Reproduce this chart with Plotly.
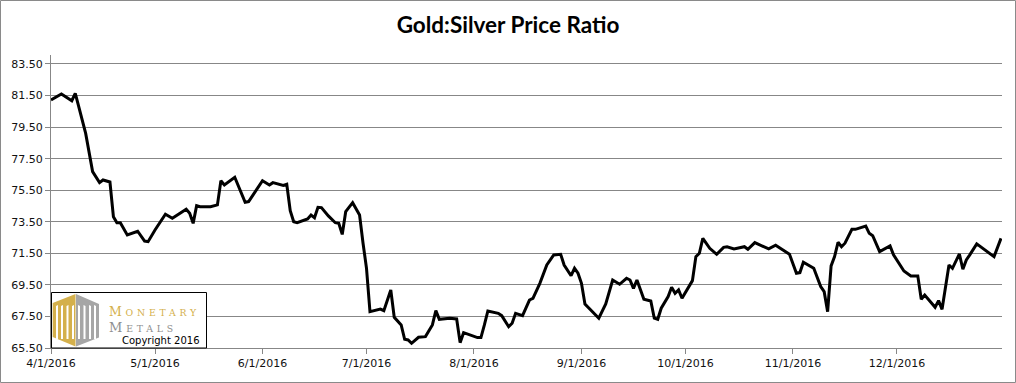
import plotly.graph_objects as go

# ---- data ----
dates = [
    "2016-04-01", "2016-04-04", "2016-04-07", "2016-04-08", "2016-04-09", "2016-04-11",
    "2016-04-13", "2016-04-15", "2016-04-16", "2016-04-18", "2016-04-19", "2016-04-20",
    "2016-04-21", "2016-04-23", "2016-04-26", "2016-04-28", "2016-04-29", "2016-05-01",
    "2016-05-04", "2016-05-06", "2016-05-10", "2016-05-11", "2016-05-12", "2016-05-13",
    "2016-05-14", "2016-05-17", "2016-05-19", "2016-05-20", "2016-05-21", "2016-05-24",
    "2016-05-27", "2016-05-28", "2016-06-01", "2016-06-03", "2016-06-04", "2016-06-07",
    "2016-06-08", "2016-06-09", "2016-06-10", "2016-06-11", "2016-06-14", "2016-06-15",
    "2016-06-16", "2016-06-17", "2016-06-18", "2016-06-20", "2016-06-22", "2016-06-23",
    "2016-06-24", "2016-06-25", "2016-06-27", "2016-06-29", "2016-06-30", "2016-07-01",
    "2016-07-02", "2016-07-05", "2016-07-06", "2016-07-08", "2016-07-09", "2016-07-11",
    "2016-07-12", "2016-07-13", "2016-07-14", "2016-07-16", "2016-07-18", "2016-07-20",
    "2016-07-21", "2016-07-22", "2016-07-25", "2016-07-27", "2016-07-28", "2016-07-29",
    "2016-08-02", "2016-08-03", "2016-08-04", "2016-08-05", "2016-08-08", "2016-08-09",
    "2016-08-11", "2016-08-12", "2016-08-13", "2016-08-15", "2016-08-17", "2016-08-18",
    "2016-08-20", "2016-08-22", "2016-08-24", "2016-08-26", "2016-08-27", "2016-08-29",
    "2016-08-30", "2016-08-31", "2016-09-01", "2016-09-02", "2016-09-06", "2016-09-08",
    "2016-09-10", "2016-09-12", "2016-09-14", "2016-09-15", "2016-09-16", "2016-09-17",
    "2016-09-19", "2016-09-21", "2016-09-22", "2016-09-23", "2016-09-24", "2016-09-26",
    "2016-09-27", "2016-09-28", "2016-09-29", "2016-09-30", "2016-10-03", "2016-10-04",
    "2016-10-05", "2016-10-06", "2016-10-08", "2016-10-10", "2016-10-12", "2016-10-13",
    "2016-10-15", "2016-10-18", "2016-10-19", "2016-10-21", "2016-10-25", "2016-10-27",
    "2016-10-31", "2016-11-02", "2016-11-03", "2016-11-04", "2016-11-07", "2016-11-09",
    "2016-11-10", "2016-11-11", "2016-11-12", "2016-11-13", "2016-11-14", "2016-11-15",
    "2016-11-16", "2016-11-18", "2016-11-19", "2016-11-22", "2016-11-23", "2016-11-24",
    "2016-11-26", "2016-11-29", "2016-11-30", "2016-12-01", "2016-12-03", "2016-12-05",
    "2016-12-07", "2016-12-08", "2016-12-09", "2016-12-12", "2016-12-13", "2016-12-14",
    "2016-12-16", "2016-12-17", "2016-12-19", "2016-12-20", "2016-12-21", "2016-12-22",
    "2016-12-24", "2016-12-29", "2016-12-31",
]
ratio = [
    81.22, 81.60, 81.17, 81.64, 80.80, 79.10,
    76.68, 75.98, 76.15, 76.02, 73.82, 73.44,
    73.44, 72.66, 72.90, 72.28, 72.24, 72.98,
    73.98, 73.72, 74.29, 74.04, 73.40, 74.52,
    74.46, 74.46, 74.57, 76.10, 75.83, 76.32,
    74.74, 74.78, 76.10, 75.83, 75.98, 75.81,
    75.88, 74.20, 73.50, 73.44, 73.68, 73.93,
    73.76, 74.42, 74.40, 73.87, 73.44, 73.40,
    72.70, 74.14, 74.71, 73.93, 72.14, 70.55,
    67.80, 67.97, 67.87, 69.18, 67.45, 66.96,
    66.05, 66.01, 65.80, 66.18, 66.22, 66.96,
    67.87, 67.32, 67.39, 67.34, 65.84, 66.47,
    66.16, 66.16, 66.96, 67.85, 67.70, 67.55,
    66.85, 67.07, 67.70, 67.55, 68.54, 68.65,
    69.60, 70.76, 71.40, 71.44, 70.76, 70.08,
    70.55, 70.24, 69.60, 68.29, 67.39, 68.29,
    69.81, 69.54, 69.92, 69.81, 69.28, 69.81,
    68.59, 68.48, 67.39, 67.32, 68.02, 68.76,
    69.35, 68.97, 69.18, 68.65, 69.77, 71.29,
    71.50, 72.45, 71.82, 71.44, 71.88, 71.92,
    71.78, 71.92, 71.76, 72.18, 71.78, 72.01,
    71.44, 70.24, 70.28, 70.94, 70.55, 69.39,
    69.07, 67.80, 70.70, 71.29, 72.20, 71.92,
    72.14, 73.02, 73.02, 73.23, 72.77, 72.62,
    71.61, 71.97, 71.40, 71.08, 70.38, 70.07,
    70.07, 68.59, 68.86, 68.08, 68.50, 67.95,
    70.76, 70.55, 71.46, 70.49, 71.08, 71.40,
    72.10, 71.29, 72.45,
]
x_tick_vals = ["2016-04-01", "2016-05-01", "2016-06-01", "2016-07-01", "2016-08-01",
               "2016-09-01", "2016-10-01", "2016-11-01", "2016-12-01"]
x_tick_text = ["4/1/2016", "5/1/2016", "6/1/2016", "7/1/2016", "8/1/2016",
               "9/1/2016", "10/1/2016", "11/1/2016", "12/1/2016"]
y_tick_vals = [65.5, 67.5, 69.5, 71.5, 73.5, 75.5, 77.5, 79.5, 81.5, 83.5]
y_tick_text = ["%.2f" % v for v in y_tick_vals]

title_text = "Gold:Silver Price Ratio"

# ---- layout geometry (pixels) ----
W, H = 1016, 383
L, R, T, B = 51, 14, 55, 35
PW, PH = W - L - R, H - T - B
GRID = "#878787"
TICKFONT = dict(family="DejaVu Sans, Verdana, sans-serif", size=11, color="#111111")


def P(x, y):
    """pixel -> paper coords"""
    return (x - L) / PW, (H - B - y) / PH


def path(points):
    s = ""
    for i, (x, y) in enumerate(points):
        px, py = P(x, y)
        s += ("M" if i == 0 else "L") + f"{px:.5f},{py:.5f} "
    return s + "Z"


fig = go.Figure()
fig.add_trace(go.Scatter(x=dates, y=ratio, mode="lines",
                         line=dict(color="#000000", width=3), hoverinfo="x+y"))

shapes = []
# outer border of the image
bx0, by0 = P(0.5, 0.5)
bx1, by1 = P(W - 0.5, H - 0.5)
shapes.append(dict(type="rect", xref="paper", yref="paper", x0=bx0, y0=by1, x1=bx1, y1=by0,
                   line=dict(color="#8a8a8a", width=1), fillcolor="rgba(0,0,0,0)", layer="below"))
# logo box
lx0, ly0 = P(51.5, 292.5)
lx1, ly1 = P(206.5, 348)
shapes.append(dict(type="rect", xref="paper", yref="paper", x0=lx0, y0=ly1, x1=lx1, y1=ly0,
                   line=dict(color="#000000", width=1), fillcolor="#ffffff", layer="above"))
GOLD = "#d4b04c"
GREY = "#a6a6a6"
# hexagon halves
shapes.append(dict(type="path", xref="paper", yref="paper", layer="above", line=dict(width=0),
                   fillcolor=GOLD,
                   path=path([(75.5, 294), (52.7, 303), (52.7, 337), (75.5, 346.5)])))
shapes.append(dict(type="path", xref="paper", yref="paper", layer="above", line=dict(width=0),
                   fillcolor=GREY,
                   path=path([(76, 294), (99, 304), (99, 337.5), (76, 346.5)])))
# white inner parts forming the "MM" pillars
for (a, b) in [(56, 58), (61, 63), (66.5, 68.5), (72, 74)]:
    shapes.append(dict(type="path", xref="paper", yref="paper", layer="above", line=dict(width=0),
                       fillcolor="#ffffff",
                       path=path([(a, 306), (b, 305), (b, 339), (a, 339)])))
for (a, b) in [(78, 80), (83.5, 85.5), (89, 91), (94, 96)]:
    shapes.append(dict(type="path", xref="paper", yref="paper", layer="above", line=dict(width=0),
                       fillcolor="#ffffff",
                       path=path([(a, 305), (b, 306), (b, 339), (a, 339)])))

SERIF = "DejaVu Serif, Liberation Serif, serif"
annotations = []
mx, my = P(107, 311.5)
annotations.append(dict(xref="paper", yref="paper", x=mx, y=my, xanchor="left", yanchor="middle",
                        showarrow=False,
                        text="<span style='letter-spacing:3.8px'>M<span style='font-size:9.3px'>ONETARY</span></span>",
                        font=dict(family=SERIF, size=12.5, color=GOLD)))
mx, my = P(107, 327)
annotations.append(dict(xref="paper", yref="paper", x=mx, y=my, xanchor="left", yanchor="middle",
                        showarrow=False,
                        text="<span style='letter-spacing:3.8px'>M<span style='font-size:9.3px'>ETALS</span></span>",
                        font=dict(family=SERIF, size=13, color="#8e8e8e")))
cx, cy = P(202, 340.5)
annotations.append(dict(xref="paper", yref="paper", x=cx, y=cy, xanchor="right", yanchor="middle",
                        showarrow=False, text="Copyright 2016",
                        font=dict(family="DejaVu Sans, Verdana, sans-serif", size=10, color="#000000")))

fig.update_layout(
    width=W, height=H,
    margin=dict(l=L, r=R, t=T, b=B, pad=0),
    paper_bgcolor="#ffffff", plot_bgcolor="#ffffff",
    showlegend=False,
    title=dict(text="<b>" + title_text + "</b>", x=0.5, xref="container", xanchor="center",
               y=1 - 25.5 / H, yref="container", yanchor="middle",
               font=dict(family="Lato, Open Sans, sans-serif", size=22.5, color="#000000")),
    xaxis=dict(type="date", range=["2016-04-01", "2016-12-31 07:00"],
               tickmode="array", tickvals=x_tick_vals, ticktext=x_tick_text,
               showgrid=False, zeroline=False, showline=True, linecolor=GRID, linewidth=1,
               ticks="outside", ticklen=5, tickcolor=GRID, tickwidth=1,
               tickfont=TICKFONT, fixedrange=True),
    yaxis=dict(range=[65.5, 84.07], tickmode="array", tickvals=y_tick_vals, ticktext=y_tick_text,
               showgrid=True, gridcolor=GRID, gridwidth=1, zeroline=False,
               showline=True, linecolor=GRID, linewidth=1,
               ticks="outside", ticklen=5, tickcolor=GRID, tickwidth=1,
               tickfont=TICKFONT, fixedrange=True),
    shapes=shapes,
    annotations=annotations,
)

fig.write_html("out.html", config={"displayModeBar": False},
               post_script="document.body.style.margin='0';document.body.style.overflow='hidden';")
